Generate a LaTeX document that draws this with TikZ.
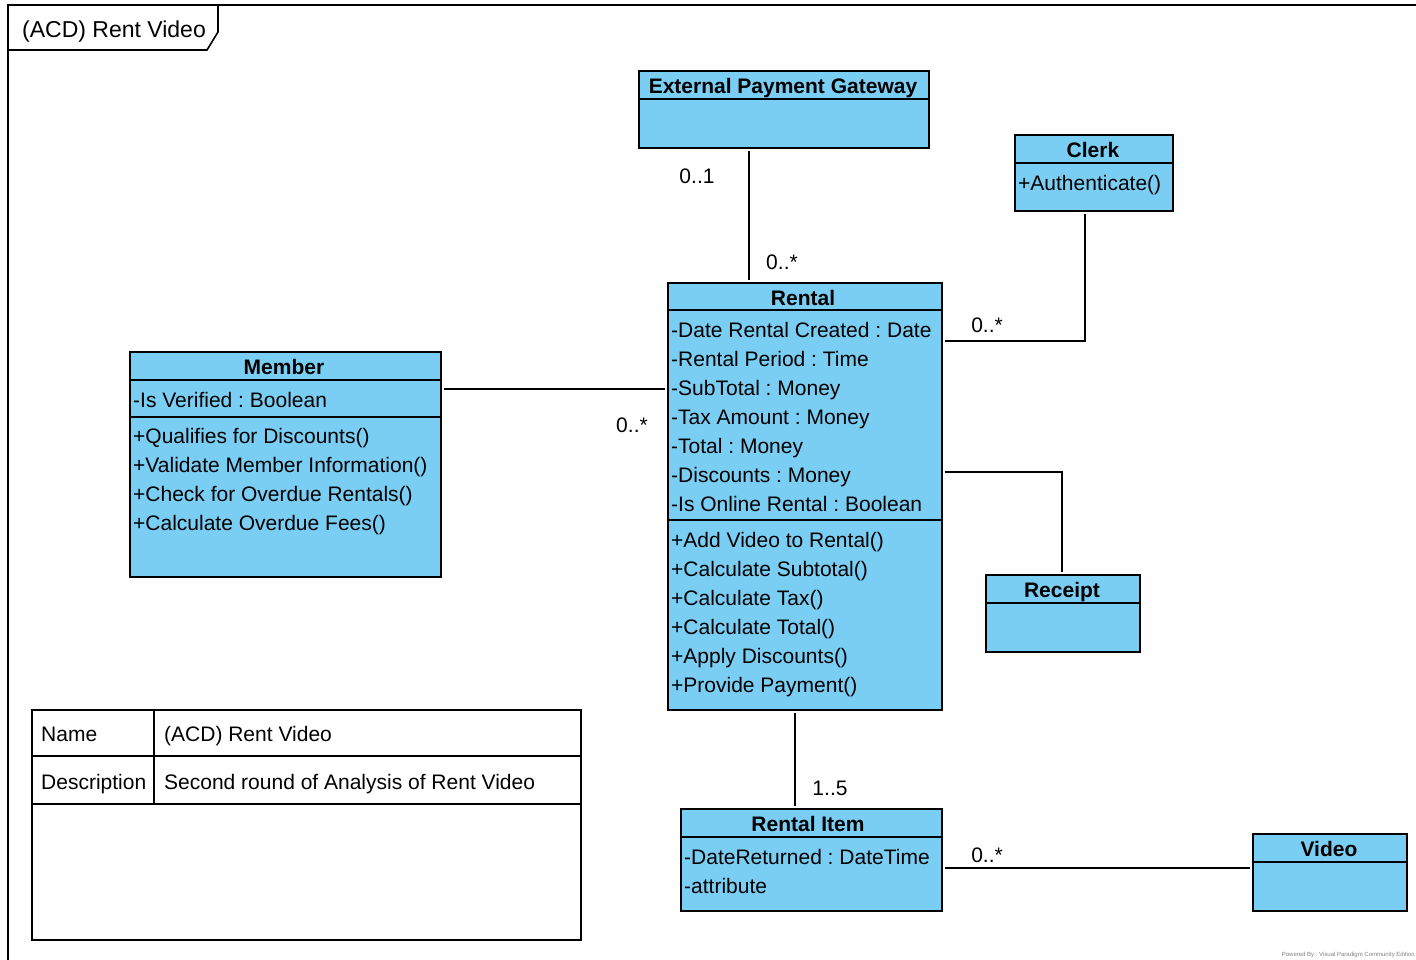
\documentclass[tikz,border=0pt]{standalone}
\usepackage{fontspec}
\setmainfont{Liberation Sans}
\usetikzlibrary{calc}
\definecolor{umlblue}{RGB}{122,206,244}
\frenchspacing
\begin{document}
\begin{tikzpicture}[x=1pt,y=-1pt,
  ln/.style={line width=1.6pt, draw=black},
  cls/.style={draw=black, line width=1.6pt, fill=umlblue, anchor=north west, inner sep=0pt},
  hd/.style={font=\bfseries\fontsize{21}{25}\selectfont, inner sep=0pt, text height=15pt, text depth=0pt},
  txt/.style={font=\fontsize{21}{25}\selectfont, anchor=west, inner sep=0pt, text height=15pt, text depth=0pt},
  mult/.style={font=\fontsize{21}{25}\selectfont, inner sep=0pt, text height=15pt, text depth=0pt},
  conn/.style={line width=1.6pt, shorten <=2pt, shorten >=2pt}]
\useasboundingbox (0,0) rectangle (1416,960);

% frame
\draw[ln] (8,960) -- (8,5) -- (1416,5);
\draw[ln] (8,5) -- (218,5) -- (218,32) -- (207,50) -- (8,50);
\node[font=\fontsize{23}{27}\selectfont, inner sep=0pt, text height=16pt, text depth=0pt] (title) at (114,30) {(ACD) Rent Video};

% External Payment Gateway
\node[cls, minimum width=290pt, minimum height=77pt] (epg) at (638,70) {};
\draw[ln] (638,99) -- (928,99);
\node[hd] at (783,86) {External Payment Gateway};

% Clerk
\node[cls, minimum width=158pt, minimum height=76pt] (clerk) at (1014,134) {};
\draw[ln] (1014,163) -- (1172,163);
\node[hd] at (1093,150) {Clerk};
\node[txt] at (1018,183) {+Authenticate()};

% Rental
\node[cls, minimum width=274pt, minimum height=427pt] (rental) at (667,282) {};
\draw[ln] (667,310) -- (941,310);
\draw[ln] (667,520) -- (941,520);
\node[hd] at (803,298) {Rental};
\foreach \t [count=\i from 0] in {-Date Rental Created : Date, -Rental Period : Time, -SubTotal : Money, -Tax Amount : Money, -Total : Money, -Discounts : Money, -Is Online Rental : Boolean}
  \node[txt] at (671,{330+29*\i}) {\t};
\foreach \t [count=\i from 0] in {+Add Video to Rental(), +Calculate Subtotal(), +Calculate Tax(), +Calculate Total(), +Apply Discounts(), +Provide Payment()}
  \node[txt] at (671,{540+29*\i}) {\t};

% Member
\node[cls, minimum width=311pt, minimum height=225pt] (member) at (129,351) {};
\draw[ln] (129,380) -- (440,380);
\draw[ln] (129,417) -- (440,417);
\node[hd] at (284,367) {Member};
\node[txt] at (133,400) {-Is Verified : Boolean};
\foreach \t [count=\i from 0] in {+Qualifies for Discounts(), +Validate Member Information(), +Check for Overdue Rentals(), +Calculate Overdue Fees()}
  \node[txt] at (133,{436+29*\i}) {\t};

% Receipt
\node[cls, minimum width=154pt, minimum height=77pt] (receipt) at (985,574) {};
\draw[ln] (985,603) -- (1139,603);
\node[hd] at (1062,590) {Receipt};

% Rental Item
\node[cls, minimum width=261pt, minimum height=102pt] (ritem) at (680,808) {};
\draw[ln] (680,837) -- (941,837);
\node[hd] at (808,824) {Rental Item};
\node[txt] at (684,857) {-DateReturned : DateTime};
\node[txt] at (684,886) {-attribute};

% Video
\node[cls, minimum width=154pt, minimum height=77pt] (video) at (1252,833) {};
\draw[ln] (1252,862) -- (1406,862);
\node[hd] at (1329,849) {Video};

% connectors
\coordinate (cA) at (749,0);
\draw[conn] (epg.south -| cA) -- (rental.north -| cA);
\node[mult] at (697,176) {0..1};
\node[mult] at (782,262) {0..*};

\coordinate (cB) at (1085,341);
\draw[conn] (clerk.south -| cB) |- (rental.east |- cB);
\node[mult] at (987,325) {0..*};

\coordinate (cC) at (0,389);
\draw[conn] (member.east |- cC) -- (rental.west |- cC);
\node[mult] at (632,425) {0..*};

\coordinate (cD) at (1062,472);
\draw[conn] (rental.east |- cD) -| (receipt.north -| cD);

\coordinate (cE) at (795,0);
\draw[conn] (rental.south -| cE) -- (ritem.north -| cE);
\node[mult] at (830,788) {1..5};

\coordinate (cF) at (0,868);
\draw[conn] (ritem.east |- cF) -- (video.west |- cF);
\node[mult] at (987,855) {0..*};

% table
\node[draw=black, line width=1.6pt, anchor=north west, inner sep=0pt, minimum width=549pt, minimum height=230pt] (tbl) at (31,709) {};
\draw[ln] (31,756) -- (580,756);
\draw[ln] (31,804) -- (580,804);
\draw[ln] (154,709) -- (154,804);
\node[txt] at (41,734) {Name};
\node[txt] at (41,782) {Description};
\node[txt] at (164,734) {(ACD) Rent Video};
\node[txt] at (164,782) {Second round of Analysis of Rent Video};

% footer
\node[font=\fontsize{6}{7}\selectfont, text=gray, anchor=east, inner sep=0pt] (pb) at (1415,955) {Powered By:: Visual Paradigm Community Edition};
\end{tikzpicture}
\end{document}
